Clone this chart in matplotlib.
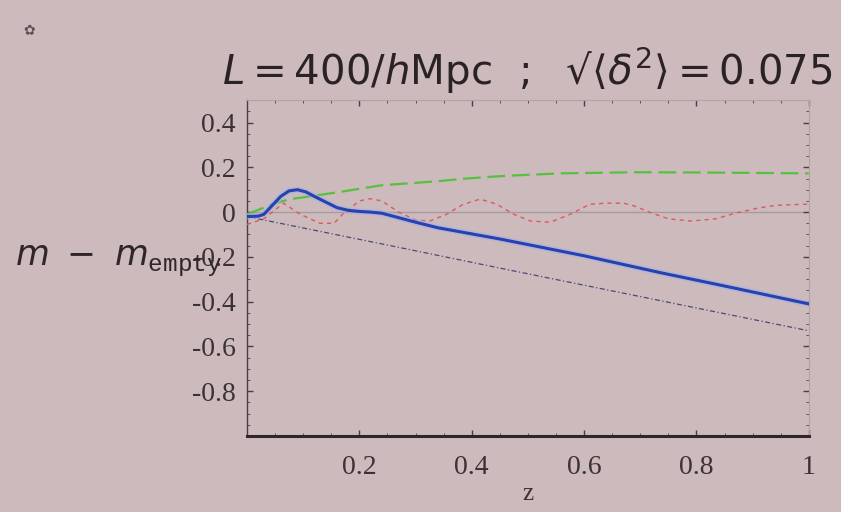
import matplotlib
matplotlib.use('Agg')
from matplotlib import pyplot as plt
from matplotlib.ticker import MultipleLocator

# curves (z, m - m_empty)
z_blue = [0.0, 0.02, 0.03, 0.045, 0.06, 0.075, 0.09, 0.105, 0.12, 0.14, 0.16, 0.18, 0.2, 0.22, 0.24,
          0.27, 0.3, 0.34, 0.45, 0.6, 0.735, 0.85, 1.0]
m_blue = [-0.02, -0.018, -0.01, 0.03, 0.07, 0.095, 0.10, 0.09, 0.07, 0.045, 0.02, 0.008, 0.003, 0.0, -0.005,
          -0.025, -0.045, -0.07, -0.12, -0.195, -0.27, -0.33, -0.41]

z_green = [0.0, 0.03, 0.05, 0.077, 0.1, 0.165, 0.24, 0.34, 0.39, 0.46, 0.56, 0.69, 0.8, 0.9, 1.0]
m_green = [-0.01, 0.02, 0.04, 0.058, 0.066, 0.09, 0.12, 0.138, 0.15, 0.162, 0.173, 0.178, 0.177, 0.175, 0.173]

z_red = [0.0, 0.03, 0.065, 0.095, 0.13, 0.155, 0.17, 0.2, 0.22, 0.24, 0.27, 0.3, 0.325, 0.355, 0.385, 0.415,
         0.445, 0.475, 0.505, 0.54, 0.575, 0.61, 0.64, 0.67, 0.69, 0.72, 0.75, 0.79, 0.835, 0.87, 0.91, 0.94, 0.99, 1.0]
m_red = [-0.055, -0.03, 0.04, -0.01, -0.05, -0.05, -0.01, 0.05, 0.06, 0.05, 0.0, -0.035, -0.04, -0.01, 0.035, 0.058,
         0.035, -0.01, -0.04, -0.045, -0.01, 0.035, 0.04, 0.04, 0.027, -0.004, -0.03, -0.04, -0.03, -0.004, 0.018, 0.03, 0.035, 0.035]

z_dot = [0.0, 0.285, 0.45, 1.0]
m_dot = [-0.02, -0.165, -0.25, -0.53]

yticks = [-0.8, -0.6, -0.4, -0.2, 0, 0.2, 0.4]
ytick_labels = ['-0.8', '-0.6', '-0.4', '-0.2', '0', '0.2', '0.4']
xticks = [0.2, 0.4, 0.6, 0.8, 1.0]
xtick_labels = ['0.2', '0.4', '0.6', '0.8', '1']

bg = '#ccbabc'
plt.rcParams['mathtext.fontset'] = 'custom'
plt.rcParams['mathtext.rm'] = 'DejaVu Sans'
plt.rcParams['mathtext.it'] = 'DejaVu Sans:italic'
plt.rcParams['mathtext.tt'] = 'Liberation Mono'

fig = plt.figure(figsize=(8.41, 5.12), dpi=100, facecolor=bg)
ax = fig.add_axes([0.2937, 0.1484, 0.668, 0.656], facecolor=bg)

ax.axhline(0, color='#a59c9f', lw=1.0, zorder=1)
ax.plot(z_dot, m_dot, color='#4a4a78', lw=0.9, ls=(0, (4, 2, 1, 2)), zorder=2)
ax.plot(z_green, m_green, color='#58c040', lw=1.6, ls=(0, (8, 3)), zorder=3)
ax.plot(z_red, m_red, color='#e05858', lw=1.0, ls=(0, (3, 3)), zorder=3)
ax.plot(z_blue, m_blue, color='#9ab0f0', lw=4.5, alpha=0.5, zorder=4)
ax.plot(z_blue, m_blue, color='#2840b0', lw=2.2, zorder=5)

ax.set_xlim(0, 1)
ax.set_ylim(-1.0, 0.5)
ax.set_xticks(xticks)
ax.set_xticklabels(xtick_labels)
ax.set_yticks(yticks)
ax.set_yticklabels(ytick_labels)
ax.xaxis.set_minor_locator(MultipleLocator(0.05))
ax.yaxis.set_minor_locator(MultipleLocator(0.05))
ax.tick_params(which='both', direction='in', top=True, right=True, color='#4a3f42')
ax.tick_params(which='major', length=4, width=1.0)
ax.tick_params(which='minor', length=2, width=0.6)
ax.tick_params(axis='y', labelsize=20, labelcolor='#3a3234', pad=8)
ax.tick_params(axis='x', labelsize=20, labelcolor='#3a3234', pad=14)
for lab in ax.get_xticklabels() + ax.get_yticklabels():
    lab.set_family('Liberation Serif')

ax.spines['left'].set_color('#4a3f42')
ax.spines['left'].set_linewidth(1.0)
ax.spines['bottom'].set_color('#2e2628')
ax.spines['bottom'].set_linewidth(2.2)
ax.spines['top'].set_color('#b0a4a7')
ax.spines['top'].set_linewidth(0.8)
ax.spines['right'].set_color('#b0a4a7')
ax.spines['right'].set_linewidth(0.8)

ax.set_xlabel('z', fontsize=18, family='Liberation Serif', color='#3a3234', labelpad=2)
fig.text(0.018, 0.49, r'$m\ -\ m_{\mathtt{empty}}$', fontsize=25, color='#2e2628', va='center')
title = r'$L = 400/h\mathrm{Mpc}\ \ ;\ \ $' + '\u221a' + r'$\langle\delta^2\rangle = 0.075$'
fig.text(0.264, 0.862, title, fontsize=29, color='#2a2224', va='center')
fig.text(0.028, 0.94, '\u273f', fontsize=10, color='#5a5054', va='center')

fig.savefig('out.png', dpi=100, facecolor=bg)
